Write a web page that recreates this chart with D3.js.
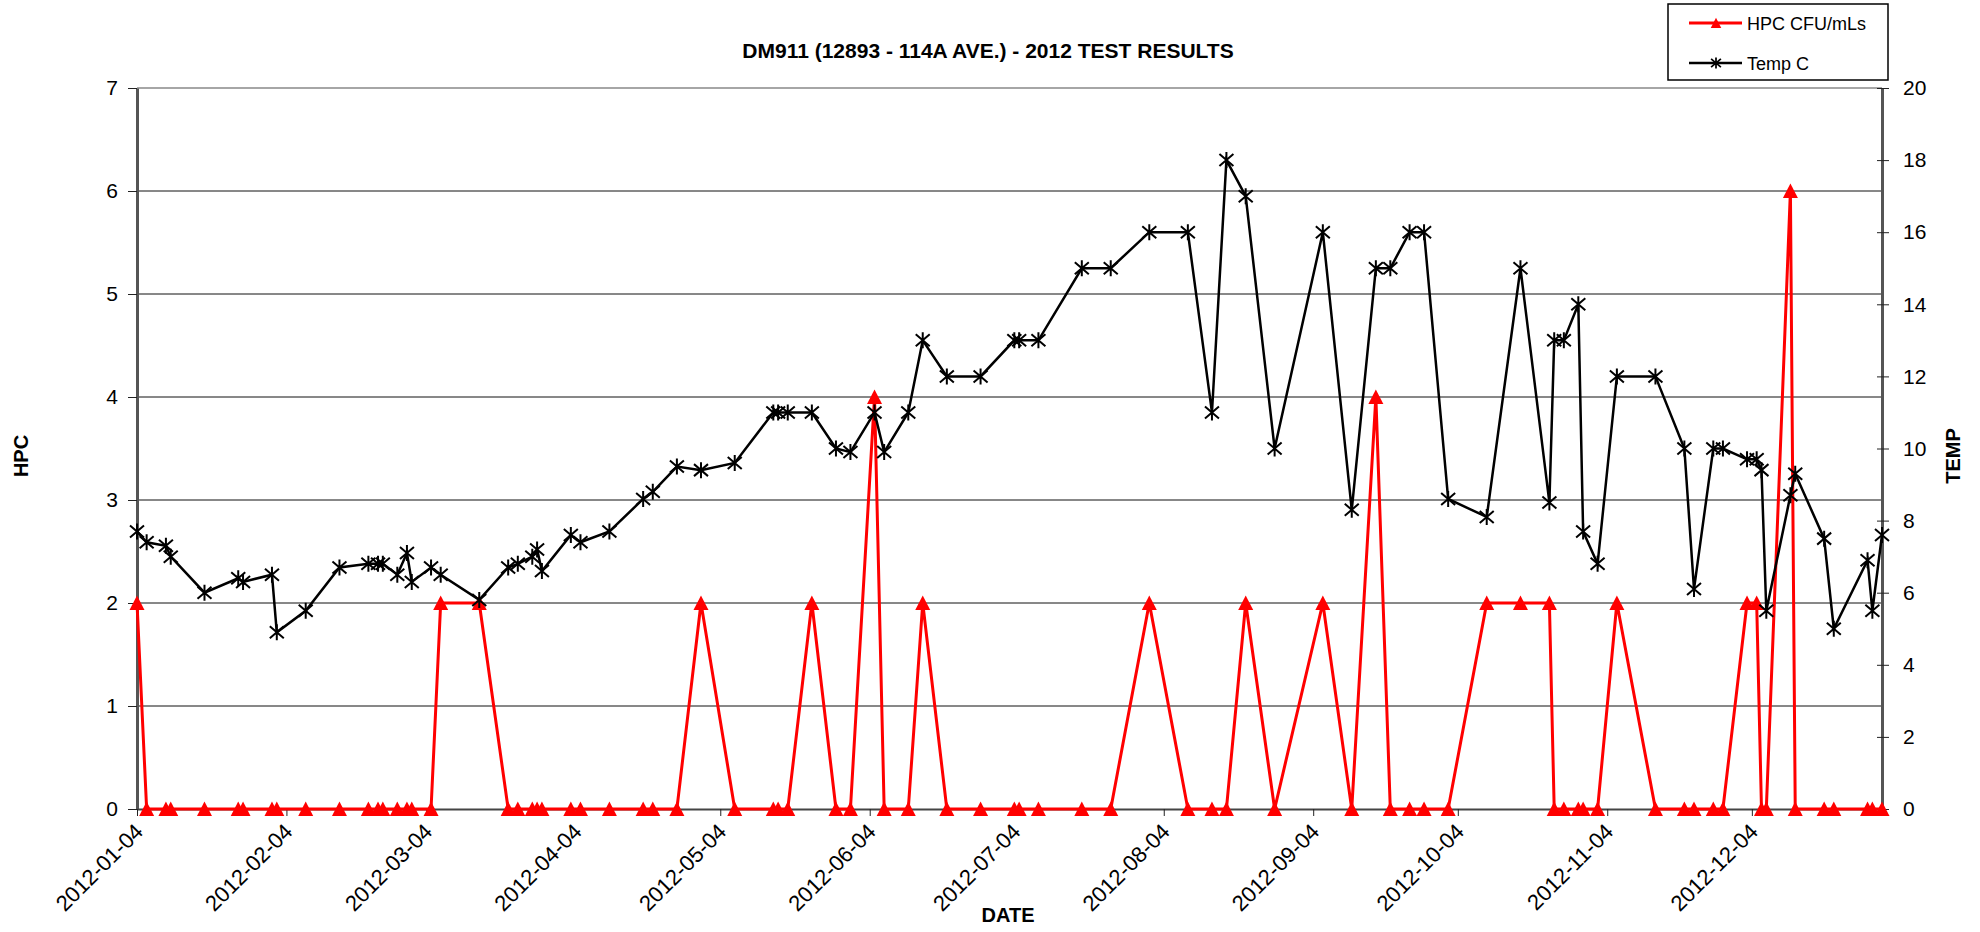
<!DOCTYPE html>
<html>
<head>
<meta charset="utf-8">
<title>DM911 - 2012 test results</title>
<script src="https://cdn.jsdelivr.net/npm/d3@7"></script>
<style>
  body { margin: 0; background: #fff; }
  svg { display: block; font-family: "Liberation Sans", Arial, sans-serif; }
  .tick text { fill: #000; }
</style>
</head>
<body>
<svg id="chart"></svg>
<script>
// ----------------------------------------------------------------
// 1. DATA
// ----------------------------------------------------------------
const sampleDates = [
  "2012-01-04","2012-01-06","2012-01-10","2012-01-11","2012-01-18","2012-01-25","2012-01-26","2012-02-01","2012-02-02","2012-02-08",
  "2012-02-15","2012-02-21","2012-02-23","2012-02-24","2012-02-27","2012-02-29","2012-03-01","2012-03-05","2012-03-07","2012-03-15",
  "2012-03-21","2012-03-23","2012-03-26","2012-03-27","2012-03-28","2012-04-03","2012-04-05","2012-04-11","2012-04-18","2012-04-20",
  "2012-04-25","2012-04-30","2012-05-07","2012-05-15","2012-05-16","2012-05-18","2012-05-23","2012-05-28","2012-05-31","2012-06-05",
  "2012-06-07","2012-06-12","2012-06-15","2012-06-20","2012-06-27","2012-07-04","2012-07-05","2012-07-09","2012-07-18","2012-07-24",
  "2012-08-01","2012-08-09","2012-08-14","2012-08-17","2012-08-21","2012-08-27","2012-09-06","2012-09-12","2012-09-17","2012-09-20",
  "2012-09-24","2012-09-27","2012-10-02","2012-10-10","2012-10-17","2012-10-23","2012-10-24","2012-10-26","2012-10-29","2012-10-30",
  "2012-11-02","2012-11-06","2012-11-14","2012-11-20","2012-11-22","2012-11-26","2012-11-28","2012-12-03","2012-12-05","2012-12-06",
  "2012-12-07","2012-12-12","2012-12-13","2012-12-19","2012-12-21","2012-12-28","2012-12-29","2012-12-31"
];

// HPC CFU/mLs (left axis)
const hpcValues = [
  2,0,0,0,0,0,0,0,0,0,
  0,0,0,0,0,0,0,0,2,2,
  0,0,0,0,0,0,0,0,0,0,
  0,2,0,0,0,0,2,0,0,4,
  0,0,2,0,0,0,0,0,0,0,
  2,0,0,0,2,0,2,0,4,0,
  0,0,0,2,2,2,0,0,0,0,
  0,2,0,0,0,0,0,2,2,0,
  0,6,0,0,0,0,0,0
];

// Temp C (right axis)
const tempValues = [
  7.7,7.4,7.3,7.0,6.0,6.4,6.3,6.5,4.9,5.5,
  6.7,6.8,6.8,6.8,6.5,7.1,6.3,6.7,6.5,5.8,
  6.7,6.8,7.0,7.2,6.6,7.6,7.4,7.7,8.6,8.8,
  9.5,9.4,9.6,11,11,11,11,10,9.9,11,
  9.9,11,13,12,12,13,13,13,15,15,
  16,16,11,18,17,10,16,8.3,15,15,
  16,16,8.6,8.1,15,8.5,13,13,14,7.7,
  6.8,12,12,10,6.1,10,10,9.7,9.7,9.4,
  5.5,8.7,9.3,7.5,5.0,6.9,5.5,7.6
];

const hpcTicks  = [0, 1, 2, 3, 4, 5, 6, 7];
const tempTicks = [0, 2, 4, 6, 8, 10, 12, 14, 16, 18, 20];
const monthTicks = ["2012-01-04","2012-02-04","2012-03-04","2012-04-04","2012-05-04","2012-06-04",
                    "2012-07-04","2012-08-04","2012-09-04","2012-10-04","2012-11-04","2012-12-04"];

const titleText = "DM911 (12893 - 114A AVE.) - 2012 TEST RESULTS";
const legendLabels = ["HPC CFU/mLs", "Temp C"];

// ----------------------------------------------------------------
// 2. SVG + SCALES
// ----------------------------------------------------------------
const width = 1980, height = 932;
const plot = { left: 137, right: 1882, top: 88, bottom: 809 };

const svg = d3.select("#chart").attr("width", width).attr("height", height);

const parse = d3.timeParse("%Y-%m-%d");
const fmt = d3.timeFormat("%Y-%m-%d");

const data = sampleDates.map((d, i) => ({ date: parse(d), hpc: hpcValues[i], temp: tempValues[i] }));

const x = d3.scaleTime()
  .domain([parse("2012-01-04"), parse("2012-12-31")])
  .range([plot.left, plot.right]);
const yL = d3.scaleLinear().domain([0, 7]).range([plot.bottom, plot.top]);
const yR = d3.scaleLinear().domain([0, 20]).range([plot.bottom, plot.top]);

// ----------------------------------------------------------------
// 3. GRID + AXES
// ----------------------------------------------------------------
svg.append("g")
  .selectAll("line")
  .data(hpcTicks.slice(1))
  .join("line")
    .attr("x1", plot.left).attr("x2", plot.right)
    .attr("y1", d => yL(d)).attr("y2", d => yL(d))
    .attr("stroke", d => d === 7 ? "#888" : "#111")
    .attr("stroke-width", d => d === 7 ? 1.5 : 1);

// left axis (HPC)
const leftAxis = svg.append("g")
  .attr("transform", `translate(${plot.left},0)`)
  .call(d3.axisLeft(yL).tickValues(hpcTicks).tickFormat(d3.format("d"))
    .tickSize(9).tickSizeOuter(0).tickPadding(10));
leftAxis.select(".domain").attr("stroke", "#555").attr("stroke-width", 3);
leftAxis.selectAll(".tick line").attr("stroke", "#222");
leftAxis.selectAll(".tick text").attr("font-size", 21);

// right axis (TEMP) - ticks cross the axis line
const rightAxis = svg.append("g")
  .attr("transform", `translate(${plot.right},0)`)
  .call(d3.axisRight(yR).tickValues(tempTicks).tickFormat(d3.format("d"))
    .tickSize(7).tickSizeOuter(0).tickPadding(14));
rightAxis.select(".domain").attr("stroke", "#555").attr("stroke-width", 3);
rightAxis.selectAll(".tick line").attr("x1", -5).attr("stroke", "#222");
rightAxis.selectAll(".tick text").attr("font-size", 21);

// date axis
const bottomAxis = svg.append("g")
  .attr("transform", `translate(0,${plot.bottom})`)
  .call(d3.axisBottom(x).tickValues(monthTicks.map(parse)).tickFormat(fmt)
    .tickSize(7).tickSizeOuter(0).tickPadding(4));
bottomAxis.select(".domain").attr("stroke", "#444").attr("stroke-width", 2);
bottomAxis.selectAll(".tick line").attr("stroke", "#222");
bottomAxis.selectAll(".tick text")
  .attr("font-size", 22)
  .attr("text-anchor", "end")
  .attr("dy", null)
  .attr("y", 0)
  .attr("transform", "translate(7,24) rotate(-45)");

// ----------------------------------------------------------------
// 4. SERIES
// ----------------------------------------------------------------
const hpcLine = d3.line().x(d => x(d.date)).y(d => yL(d.hpc));
const tempLine = d3.line().x(d => x(d.date)).y(d => yR(d.temp));

const triangle = "M0,-7.5L7.5,7L-7.5,7Z";
const star = "M-7,-6L7,6M-7,6L7,-6M0,-8L0,8";

svg.append("path")
  .datum(data)
  .attr("d", hpcLine)
  .attr("fill", "none")
  .attr("stroke", "#ff0000")
  .attr("stroke-width", 3);

svg.append("g")
  .selectAll("path")
  .data(data)
  .join("path")
    .attr("d", triangle)
    .attr("transform", d => `translate(${x(d.date)},${yL(d.hpc)})`)
    .attr("fill", "#ff0000");

svg.append("path")
  .datum(data)
  .attr("d", tempLine)
  .attr("fill", "none")
  .attr("stroke", "#000")
  .attr("stroke-width", 2.5);

svg.append("g")
  .selectAll("path")
  .data(data)
  .join("path")
    .attr("d", star)
    .attr("transform", d => `translate(${x(d.date)},${yR(d.temp)})`)
    .attr("fill", "none")
    .attr("stroke", "#000")
    .attr("stroke-width", 2);

// ----------------------------------------------------------------
// 5. TITLES
// ----------------------------------------------------------------
svg.append("text")
  .attr("x", 988).attr("y", 58)
  .attr("text-anchor", "middle")
  .attr("font-size", 21).attr("font-weight", "bold")
  .text(titleText);

svg.append("text")
  .attr("transform", "translate(28,456) rotate(-90)")
  .attr("text-anchor", "middle")
  .attr("font-size", 20).attr("font-weight", "bold")
  .text("HPC");

svg.append("text")
  .attr("transform", "translate(1960,456) rotate(-90)")
  .attr("text-anchor", "middle")
  .attr("font-size", 20).attr("font-weight", "bold")
  .text("TEMP");

svg.append("text")
  .attr("x", 1008).attr("y", 922)
  .attr("text-anchor", "middle")
  .attr("font-size", 20).attr("font-weight", "bold")
  .text("DATE");

// ----------------------------------------------------------------
// 6. LEGEND
// ----------------------------------------------------------------
const legend = svg.append("g");
legend.append("rect")
  .attr("x", 1668).attr("y", 4).attr("width", 220).attr("height", 76)
  .attr("fill", "#fff").attr("stroke", "#000").attr("stroke-width", 1.5);

const legendRows = [
  { label: legendLabels[0], color: "#ff0000", marker: triangle, y: 23, width: 3 },
  { label: legendLabels[1], color: "#000", marker: star, y: 63, width: 2.5 }
];
legendRows.forEach((r, i) => {
  legend.append("line")
    .attr("x1", 1689).attr("x2", 1742).attr("y1", r.y).attr("y2", r.y)
    .attr("stroke", r.color).attr("stroke-width", r.width);
  const m = legend.append("path")
    .attr("d", r.marker)
    .attr("transform", `translate(1716,${r.y}) scale(0.7)`);
  if (i === 0) m.attr("fill", r.color);
  else m.attr("fill", "none").attr("stroke", r.color).attr("stroke-width", 2.5);
  legend.append("text")
    .attr("x", 1747).attr("y", r.y + 7)
    .attr("font-size", 18)
    .text(r.label);
});
</script>
</body>
</html>
